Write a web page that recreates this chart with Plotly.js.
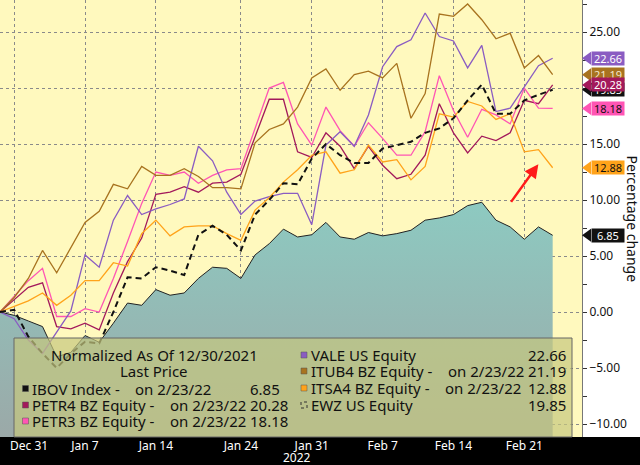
<!DOCTYPE html>
<html>
<head>
<meta charset="utf-8">
<script src="https://cdn.plot.ly/plotly-3.0.1.min.js"></script>
<style>
  html, body { margin: 0; padding: 0; background: #fff; }
  #chart { width: 640px; height: 465px; }
</style>
</head>
<body>
<div id="chart"></div>
<script>
// Trading days (normalized as of 12/30/2021)
var dates = [
    '2021-12-30', '2021-12-31', '2022-01-03', '2022-01-04', '2022-01-05', '2022-01-06', '2022-01-07',
    '2022-01-10', '2022-01-11', '2022-01-12', '2022-01-13', '2022-01-14',
    '2022-01-17', '2022-01-18', '2022-01-19', '2022-01-20', '2022-01-21',
    '2022-01-24', '2022-01-25', '2022-01-26', '2022-01-27', '2022-01-28',
    '2022-01-31', '2022-02-01', '2022-02-02', '2022-02-03', '2022-02-04',
    '2022-02-07', '2022-02-08', '2022-02-09', '2022-02-10', '2022-02-11',
    '2022-02-14', '2022-02-15', '2022-02-16', '2022-02-17', '2022-02-18',
    '2022-02-21', '2022-02-22', '2022-02-23'
];

// Percentage change per series
var ibov = [0, -0.3, -0.8, -1.3, -4.0, -3.6, -2.1, -2.7, -1.0, 0.8, 0.6, 2.0, 1.5, 1.7, 3.0, 4.0, 3.9, 3.0, 5.1, 6.1,
            7.4, 6.7, 6.9, 8.0, 6.7, 6.5, 7.1, 6.8, 7.0, 7.3, 8.2, 8.4, 8.7, 9.5, 9.8, 8.2, 7.6, 6.5, 7.6, 6.85];
var petr4 = [0, 1.1, 2.2, 2.6, -1.3, -1.5, -1.0, -1.6, 1.7, 4.5, 6.6, 10.5, 10.7, 11.2, 10.7, 11.5, 11.6, 12.3, 15.7, 19.0,
             19.0, 14.3, 13.8, 16.0, 14.8, 12.8, 14.8, 13.1, 11.9, 12.3, 14.0, 18.6, 16.0, 14.2, 15.7, 15.3, 16.0, 18.9, 18.6, 20.28];
var petr3 = [0, 1.4, 2.8, 3.9, -0.4, -0.4, 0.3, 0.0, 3.0, 6.3, 9.7, 12.5, 12.2, 12.5, 11.5, 12.2, 12.7, 12.8, 16.4, 20.0,
             20.5, 16.8, 14.9, 18.3, 16.2, 14.8, 16.9, 15.5, 14.0, 14.0, 16.1, 21.1, 18.0, 15.6, 18.1, 17.6, 16.8, 20.0, 18.2, 18.18];
var vale = [0, -0.6, -2.5, -3.7, -1.8, 0.1, 5.1, 4.0, 8.2, 10.4, 8.7, 9.2, 9.6, 10.1, 14.8, 13.5, 10.7, 8.7, 9.9, 10.3,
            10.6, 10.6, 7.8, 14.9, 16.1, 14.8, 17.6, 21.9, 23.7, 24.3, 26.7, 24.6, 24.2, 21.8, 23.8, 17.9, 18.2, 20.1, 22.0, 22.66];
var itub4 = [0, 1.3, 3.0, 5.5, 3.5, 5.8, 8.0, 9.0, 11.4, 11.0, 13.0, 12.2, 12.2, 12.8, 12.1, 11.1, 11.1, 11.0, 15.1, 16.3,
             16.8, 18.3, 20.9, 21.7, 19.8, 21.2, 21.5, 20.9, 22.2, 17.3, 19.5, 26.6, 26.4, 27.5, 26.1, 24.4, 24.9, 21.8, 22.9, 21.19];
var itsa4 = [0, 0.5, 1.0, 1.7, 0.6, 1.5, 2.8, 2.8, 4.4, 4.1, 7.0, 8.2, 6.8, 7.6, 7.7, 7.7, 7.0, 6.4, 9.1, 10.2,
             11.6, 12.7, 14.0, 14.3, 12.4, 12.7, 14.9, 13.4, 13.6, 11.8, 13.0, 17.7, 17.4, 18.8, 18.4, 17.2, 17.7, 14.3, 14.5, 12.88];
var ewz = [0, 0.2, -2.2, -3.7, -5.0, -3.7, -2.65, -2.8, 0.0, 3.1, 3.0, 4.0, 3.7, 3.3, 6.9, 7.7, 6.9, 5.5, 8.7, 10.0,
           11.5, 11.4, 13.7, 15.0, 14.0, 13.3, 13.3, 14.6, 14.9, 15.2, 16.0, 16.4, 17.3, 18.9, 20.3, 17.7, 17.7, 18.9, 19.4, 19.85];

// Axis ticks ('Dec 31' is drawn separately, nudged inside the plot like the original)
var tickDates = ['2021-12-31', '2022-01-07', '2022-01-14', '2022-01-24', '2022-01-31', '2022-02-07', '2022-02-14', '2022-02-21'];
var tickLabels = ['', 'Jan 7', 'Jan 14', 'Jan 24', 'Jan 31', 'Feb 7', 'Feb 14', 'Feb 21'];

document.addEventListener('DOMContentLoaded', function() {
    var FONT = 'Noto Sans, DejaVu Sans, sans-serif';
    var W = 582, H = 437; // plot area in px
    function px(x) { return x / W; }
    function py(y) { return (H - y) / H; }

    var last = function(a) { return a[a.length - 1]; };
    var base = dates.map(function() { return -12; }); // floor for the IBOV area

    var colors = {
        ibov: '#111111', petr4: '#A3195B', petr3: '#FF55B4',
        vale: '#8A5CC2', itub4: '#A8731F', itsa4: '#FFA31A', ewz: '#111111'
    };

    function line(y, color, w, dash) {
        return { x: dates, y: y, type: 'scatter', mode: 'lines', hoverinfo: 'skip',
                 line: { color: color, width: w, dash: dash || 'solid' } };
    }

    var data = [
        { x: dates, y: base, type: 'scatter', mode: 'lines', line: { width: 0 }, hoverinfo: 'skip' },
        { x: dates, y: ibov, type: 'scatter', mode: 'lines', fill: 'tonexty', hoverinfo: 'skip',
          line: { color: '#222', width: 1 },
          fillgradient: { type: 'vertical', start: -11, stop: 10,
                          colorscale: [[0, '#9BA9A8'], [1, '#8DCAC1']] } },
        line(petr4, colors.petr4, 1.3),
        line(petr3, colors.petr3, 1.3),
        line(vale, colors.vale, 1.3),
        line(itub4, colors.itub4, 1.3),
        line(itsa4, colors.itsa4, 1.3),
        line(ewz, colors.ewz, 2, '6px,4px')
    ];

    var shapes = [
        // black band under the plot
        { type: 'rect', xref: 'paper', yref: 'paper', x0: -0.01, x1: 1.12, y0: -0.08, y1: 0,
          fillcolor: '#000', line: { width: 0 }, layer: 'below' },
        // legend box
        { type: 'rect', xref: 'paper', yref: 'paper', x0: px(14), x1: px(572), y0: 0, y1: py(338),
          fillcolor: 'rgba(198,200,126,0.7)', line: { color: '#666', width: 1 } }
    ];
    var annotations = [];

    // Legend content
    var leftRows = [
        { name: 'IBOV Index -', on: 133, v: last(ibov), c: colors.ibov, y: 388.5 },
        { name: 'PETR4 BZ Equity -', on: 168, v: last(petr4), c: colors.petr4, y: 405 },
        { name: 'PETR3 BZ Equity -', on: 168, v: last(petr3), c: colors.petr3, y: 421 }
    ];
    var rightRows = [
        { name: 'VALE US Equity', on: null, v: last(vale), c: colors.vale, y: 355 },
        { name: 'ITUB4 BZ Equity -', on: 446, v: last(itub4), c: colors.itub4, y: 371 },
        { name: 'ITSA4 BZ Equity -', on: 443, v: last(itsa4), c: colors.itsa4, y: 388 },
        { name: 'EWZ US Equity', on: null, v: last(ewz), c: null, y: 405 }
    ];

    function legendText(text, x, y, anchor) {
        annotations.push({ xref: 'paper', yref: 'paper', x: px(x), y: py(y), xanchor: anchor, yanchor: 'middle',
                           text: text, showarrow: false, font: { family: FONT, size: 15, color: '#111' } });
    }
    legendText('Normalized As Of 12/30/2021', 154, 355, 'center');
    legendText('Last Price', 154, 371, 'center');

    function addRows(rows, mx, tx, vx) {
        rows.forEach(function(r) {
            if (r.c) {
                shapes.push({ type: 'rect', xref: 'paper', yref: 'paper', x0: px(mx), x1: px(mx + 6),
                              y0: py(r.y + 3), y1: py(r.y - 3), fillcolor: r.c, line: { color: '#555', width: 0.5 } });
            } else {
                shapes.push({ type: 'rect', xref: 'paper', yref: 'paper', x0: px(mx), x1: px(mx + 6),
                              y0: py(r.y + 3), y1: py(r.y - 3), line: { color: '#333', width: 1, dash: 'dot' } });
            }
            legendText(r.name, tx, r.y, 'left');
            if (r.on) legendText('on 2/23/22', r.on, r.y, 'left');
            legendText(r.v.toFixed(2), vx, r.y, 'left');
        });
    }
    addRows(leftRows, 22.5, 30, 248);
    addRows(rightRows, 301, 309, 526);

    // Last-value tags on the right axis (drawn bottom to top)
    var tags = [
        { v: last(vale), c: colors.vale, t: '#fff' },
        { v: last(itub4), c: colors.itub4, t: '#f3e6cc' },
        { v: last(ewz), c: '#111', t: '#fff' },
        { v: last(petr4), c: colors.petr4, t: '#fff' },
        { v: last(petr3), c: colors.petr3, t: '#111' },
        { v: last(itsa4), c: colors.itsa4, t: '#111' },
        { v: last(ibov), c: '#111', t: '#fff' }
    ];
    tags.forEach(function(tg) {
        shapes.push({ type: 'path', xref: 'paper', yref: 'y', xsizemode: 'pixel', ysizemode: 'pixel',
                      xanchor: 1, yanchor: tg.v, path: 'M0,0 L9,6.5 L9,-6.5 Z',
                      fillcolor: tg.c, line: { width: 0 } });
        annotations.push({ xref: 'paper', yref: 'y', x: 1, xshift: 9, xanchor: 'left', y: tg.v, yanchor: 'middle',
                           text: tg.v.toFixed(2), showarrow: false, bgcolor: tg.c, width: 32, height: 13,
                           borderpad: 0, font: { family: FONT, size: 11, color: tg.t } });
    });

    // red arrow
    annotations.push({ xref: 'x', yref: 'y', axref: 'x', ayref: 'y', x: 37.99, y: 13.2, ax: 35.99, ay: 9.7,
                       text: '', showarrow: true, arrowhead: 2, arrowsize: 1.1, arrowwidth: 2.5,
                       arrowcolor: '#FF1A1A', standoff: 0 });
    // first date label and year under the x ticks
    annotations.push({ xref: 'paper', yref: 'paper', x: px(8), y: py(445), xanchor: 'left', yanchor: 'middle',
                       text: 'Dec 31', showarrow: false, font: { family: FONT, size: 12, color: '#fff' } });
    annotations.push({ xref: 'paper', yref: 'paper', x: px(297), y: py(457), xanchor: 'center', yanchor: 'middle',
                       text: '2022', showarrow: false, font: { family: FONT, size: 12, color: '#fff' } });
    // y axis title (reads top to bottom)
    annotations.push({ xref: 'paper', yref: 'paper', x: 1, xshift: 50, y: 0.5, xanchor: 'center', yanchor: 'middle',
                       text: 'Percentage change', textangle: 90, showarrow: false,
                       font: { family: FONT, size: 14, color: '#111' } });

    var layout = {
        width: 640,
        height: 465,
        margin: { l: 0, r: 58, t: 0, b: 28 },
        paper_bgcolor: '#fff',
        plot_bgcolor: '#FFF9BE',
        showlegend: false,
        hovermode: false,
        font: { family: FONT },
        xaxis: {
            type: 'category',
            categoryorder: 'array',
            categoryarray: dates,
            range: [0, 41.07],
            tickvals: tickDates,
            ticktext: tickLabels,
            tickfont: { family: FONT, size: 12, color: '#fff' },
            ticks: '',
            showgrid: true,
            gridcolor: '#8a8a8a',
            griddash: 'dot',
            gridwidth: 1,
            showline: false,
            zeroline: false
        },
        yaxis: {
            side: 'right',
            range: [-11.16, 27.86],
            dtick: 5,
            tick0: 0,
            tickformat: '.2f',
            ticks: 'outside',
            ticklen: 4,
            tickcolor: '#333',
            tickfont: { family: FONT, size: 12, color: '#111' },
            showline: true,
            linecolor: '#777',
            linewidth: 1,
            showgrid: true,
            gridcolor: '#8a8a8a',
            griddash: 'dot',
            zeroline: false,
            minor: { dtick: 2.5, ticks: 'outside', ticklen: 4, tickcolor: '#333', showgrid: false }
        },
        shapes: shapes,
        annotations: annotations
    };

    Plotly.newPlot('chart', data, layout, { displayModeBar: false, staticPlot: true });
});
</script>
</body>
</html>
